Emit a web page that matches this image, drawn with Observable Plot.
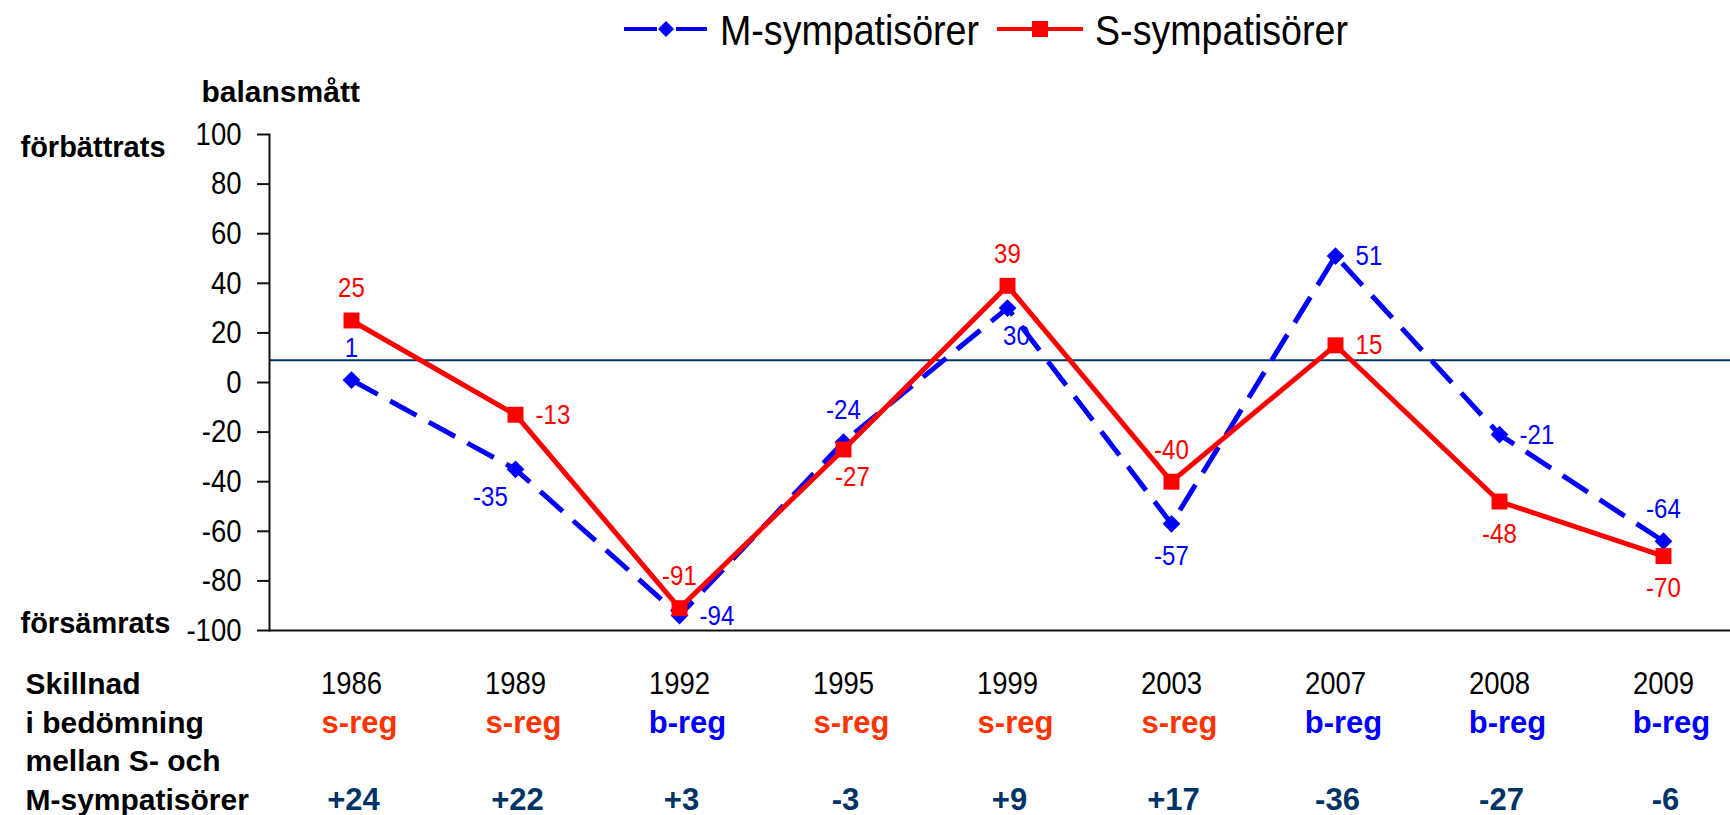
<!DOCTYPE html>
<html>
<head>
<meta charset="utf-8">
<script src="https://cdn.jsdelivr.net/npm/d3@7"></script>
<script src="https://cdn.jsdelivr.net/npm/@observablehq/plot@0.6"></script>
<style>
  body { margin: 0; background: #fff; }
  #wrap { position: relative; width: 1730px; height: 815px; overflow: hidden; background: #fff; }
  svg { display: block; }
</style>
</head>
<body>
<div id="wrap">
  <div id="legend"></div>
  <div id="chart"></div>
</div>
<script>
// ---- data ----
const years = ["1986", "1989", "1992", "1995", "1999", "2003", "2007", "2008", "2009"];
const mValues = [1, -35, -94, -24, 30, -57, 51, -21, -64];
const sValues = [25, -13, -91, -27, 39, -40, 15, -48, -70];
const mLabelPos = ["above", "belowLeft", "right", "above", "belowRight", "below", "right", "right", "above"];
const sLabelPos = ["above", "right", "above", "belowRight", "above", "above", "right", "below", "below"];
const government = ["s-reg", "s-reg", "b-reg", "s-reg", "s-reg", "s-reg", "b-reg", "b-reg", "b-reg"];
const difference = ["+24", "+22", "+3", "-3", "+9", "+17", "-36", "-27", "-6"];
const yTicks = [-100, -80, -60, -40, -20, 0, 20, 40, 60, 80, 100];
const referenceLine = [9];
const seriesNames = ["M-sympatisörer", "S-sympatisörer"];
const seriesColors = ["#0000ff", "#ff0000"];
const axisTitle = "balansmått";
const topLabel = "förbättrats";
const bottomLabel = "försämrats";
const tableTitle = "Skillnad\ni bedömning\nmellan S- och\nM-sympatisörer";

// ---- derived tables ----
const M = years.map((year, i) => ({year, value: mValues[i], pos: mLabelPos[i]}));
const S = years.map((year, i) => ({year, value: sValues[i], pos: sLabelPos[i]}));
const table = years.map((year, i) => ({year, gov: government[i], diff: difference[i]}));

const NARROW = '"Liberation Sans", Arial, sans-serif';
const BOLD = '"Liberation Sans", Arial, Helvetica, sans-serif';

// ---- legend (above the chart) ----
const leg = d3.select("#legend").append("svg").attr("width", 1730).attr("height", 60);
const g1 = leg.append("g");
g1.append("line").attr("x1", 624).attr("x2", 657).attr("y1", 29).attr("y2", 29).attr("stroke", seriesColors[0]).attr("stroke-width", 4);
g1.append("line").attr("x1", 676).attr("x2", 707).attr("y1", 29).attr("y2", 29).attr("stroke", seriesColors[0]).attr("stroke-width", 4);
g1.append("path").attr("d", "M666,21L674,29L666,37L658,29Z").attr("fill", seriesColors[0]);
g1.append("text").attr("x", 720).attr("y", 45).attr("font-family", NARROW).attr("font-size", 42)
  .attr("textLength", 259).attr("lengthAdjust", "spacingAndGlyphs").attr("fill", "#000").text(seriesNames[0]);
const g2 = leg.append("g");
g2.append("line").attr("x1", 997).attr("x2", 1083).attr("y1", 29).attr("y2", 29).attr("stroke", seriesColors[1]).attr("stroke-width", 4);
g2.append("rect").attr("x", 1032).attr("y", 21).attr("width", 16).attr("height", 16).attr("fill", seriesColors[1]);
g2.append("text").attr("x", 1095).attr("y", 45).attr("font-family", NARROW).attr("font-size", 42)
  .attr("textLength", 253).attr("lengthAdjust", "spacingAndGlyphs").attr("fill", "#000").text(seriesNames[1]);

// ---- data-label helper ----
const offsets = {
  above: {dx: 0, dy: -32, anchor: "middle"},
  below: {dx: 0, dy: 32, anchor: "middle"},
  belowRight: {dx: 9, dy: 28, anchor: "middle"},
  belowLeft: {dx: -25, dy: 28, anchor: "middle"},
  right: {dx: 20, dy: 0, anchor: "start"}
};
function labels(data, color) {
  return Object.entries(offsets).map(([k, o]) =>
    Plot.text(data.filter(d => d.pos === k), {
      x: "year", y: "value", text: d => String(d.value),
      dx: o.dx, dy: o.dy, textAnchor: o.anchor, lineAnchor: "middle",
      fill: color, fontSize: 28, fontFamily: NARROW
    })
  );
}

const chart = Plot.plot({
  width: 1730,
  height: 755,
  marginTop: 74,
  marginBottom: 185,
  marginLeft: 269,
  marginRight: 0,
  style: {fontFamily: NARROW, fontSize: "32px", background: "#fff", color: "#000", overflow: "visible"},
  x: {type: "point", domain: years, range: [350, 1663], padding: 0, axis: null},
  y: {domain: [-100, 100], axis: null},
  marks: [
    Plot.ruleY(referenceLine, {stroke: "#003366", strokeWidth: 2}),
    Plot.axisY(yTicks, {label: null, tickSize: 12, tickPadding: 16, tickFormat: d => `${d}`, fontSize: 32, stroke: "#111", strokeWidth: 2, fill: "#000"}),
    Plot.frame({anchor: "left", stroke: "#111", strokeWidth: 2}),
    Plot.ruleY([-100], {stroke: "#111", strokeWidth: 2}),
    Plot.line(M, {x: "year", y: "value", stroke: seriesColors[0], strokeWidth: 5, strokeDasharray: "30,14", strokeLinecap: "butt", strokeLinejoin: "miter"}),
    Plot.dot(M, {x: "year", y: "value", symbol: "diamond2", r: 8, fill: seriesColors[0], stroke: "none"}),
    Plot.line(S, {x: "year", y: "value", stroke: seriesColors[1], strokeWidth: 5, strokeLinejoin: "miter"}),
    Plot.dot(S, {x: "year", y: "value", symbol: "square", r: 9, fill: seriesColors[1], stroke: "none"}),
    ...labels(M, seriesColors[0]),
    ...labels(S, seriesColors[1]),
    // table under the axis
    Plot.text(table, {x: "year", text: "year", frameAnchor: "bottom", dy: 63, lineAnchor: "bottom", fontSize: 32, fill: "#000", fontFamily: NARROW}),
    Plot.text(table.filter(d => d.gov === "s-reg"), {x: "year", text: "gov", frameAnchor: "bottom", dy: 102, dx: 8, lineAnchor: "bottom", fontFamily: BOLD, fontWeight: "bold", fontSize: 31, fill: "#ff3300"}),
    Plot.text(table.filter(d => d.gov === "b-reg"), {x: "year", text: "gov", frameAnchor: "bottom", dy: 102, dx: 8, lineAnchor: "bottom", fontFamily: BOLD, fontWeight: "bold", fontSize: 31, fill: "#0000ff"}),
    Plot.text(table, {x: "year", text: "diff", frameAnchor: "bottom", dy: 179, dx: 2, lineAnchor: "bottom", fontFamily: BOLD, fontWeight: "bold", fontSize: 31, fill: "#003366"}),
    // left labels
    Plot.text([axisTitle], {text: d => d, frameAnchor: "top-left", dx: -68, dy: -42, textAnchor: "start", lineAnchor: "middle", fontFamily: BOLD, fontWeight: "bold", fontSize: 30, fill: "#000"}),
    Plot.text([topLabel], {text: d => d, frameAnchor: "top-left", dx: -249, dy: 13, textAnchor: "start", lineAnchor: "middle", fontFamily: BOLD, fontWeight: "bold", fontSize: 29, fill: "#000"}),
    Plot.text([bottomLabel], {text: d => d, frameAnchor: "bottom-left", dx: -249, dy: -7, textAnchor: "start", lineAnchor: "middle", fontFamily: BOLD, fontWeight: "bold", fontSize: 29, fill: "#000"}),
    Plot.text([tableTitle], {text: d => d, frameAnchor: "bottom-left", dx: -244, dy: 179, textAnchor: "start", lineAnchor: "bottom", lineHeight: 1.28, fontFamily: BOLD, fontWeight: "bold", fontSize: 30, fill: "#000"})
  ]
});
document.getElementById("chart").appendChild(chart);

// condense the light (non-bold) texts horizontally, like the narrow face of the original
chart.querySelectorAll("text").forEach(t => {
  const w = getComputedStyle(t).fontWeight;
  if (w === "bold" || +w >= 600) return;
  const tr = t.getAttribute("transform");
  if (tr) {
    t.setAttribute("transform", tr + " scale(0.86,1)");
  } else {
    const x = +(t.getAttribute("x") || 0), y = +(t.getAttribute("y") || 0);
    t.removeAttribute("x"); t.removeAttribute("y");
    t.setAttribute("transform", `translate(${x},${y}) scale(0.86,1)`);
  }
});
</script>
</body>
</html>
